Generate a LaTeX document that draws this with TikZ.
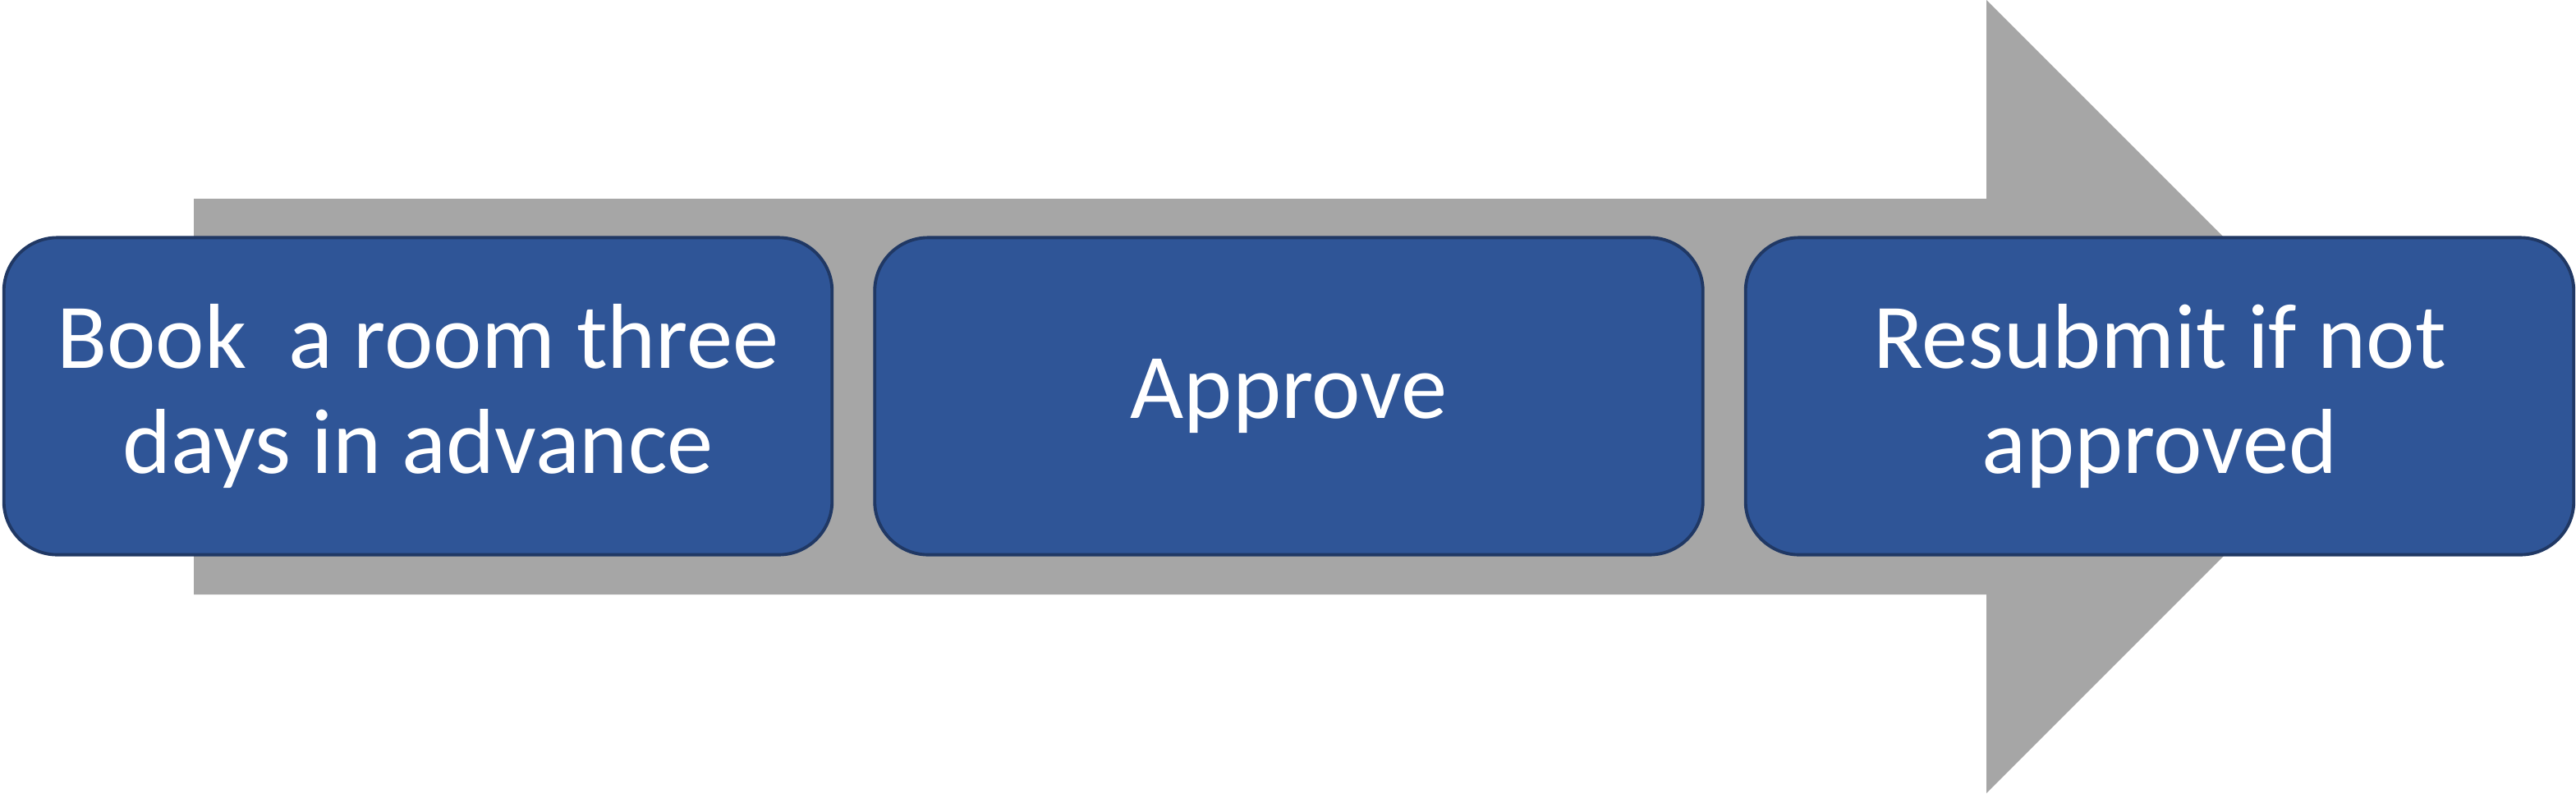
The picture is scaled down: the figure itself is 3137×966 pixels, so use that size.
\documentclass[tikz,border=0pt]{standalone}
\usepackage{fontspec}
\setmainfont{Carlito}
\usetikzlibrary{positioning}

\definecolor{stagefill}{HTML}{2F5597}
\definecolor{stageline}{HTML}{203864}
\definecolor{arrowgrey}{HTML}{A6A6A6}

\begin{document}
\begin{tikzpicture}[x = 0.01cm, y = -0.01cm,
    stage/.style = {draw = stageline, fill = stagefill, line width = 1.1pt,
        rounded corners = 0.65cm, minimum width = 10.08cm, minimum height = 3.86cm,
        align = center, text = white, font = \fontsize{32}{36.4}\selectfont}]
        \useasboundingbox (0,0) rectangle (3137,966);
        % big grey arrow behind
        \fill[arrowgrey] (236,242) -- (2419,242) -- (2419,0) -- (2902,483)
            -- (2419,966) -- (2419,724) -- (236,724) -- cycle;
        \node[stage] (book) at (509,482.5) {Book\ \ a room three\\days in advance};
        \node[stage, right = 0.48cm of book] (approve) {Approve};
        \node[stage, right = 0.48cm of approve] (resubmit) {Resubmit if not\\approved};
\end{tikzpicture}
\end{document}
